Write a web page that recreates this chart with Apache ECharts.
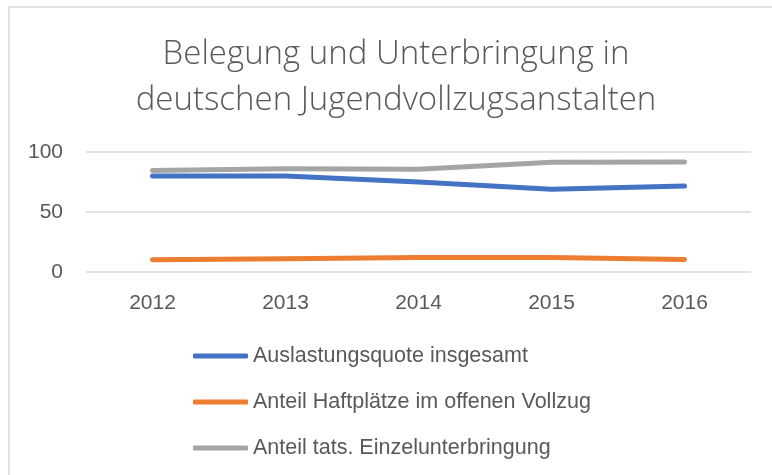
<!DOCTYPE html>
<html>
<head>
<meta charset="utf-8">
<script src="https://cdn.jsdelivr.net/npm/echarts@6/dist/echarts.min.js"></script>
<style>html,body{margin:0;padding:0;background:#fff}#c{width:772px;height:475px}</style>
</head>
<body>
<div id="c"></div>
<script>
const titleText = 'Belegung und Unterbringung in\ndeutschen Jugendvollzugsanstalten';
const categories = ['2012', '2013', '2014', '2015', '2016'];
const seriesNames = ['Auslastungsquote insgesamt', 'Anteil Haftplätze im offenen Vollzug', 'Anteil tats. Einzelunterbringung'];
const auslastung = [80, 80, 75, 69, 71.7];
const offenerVollzug = [10.3, 11, 12, 12, 10.5];
const einzelunterbringung = [84.5, 86, 85.6, 91.4, 91.7];
const yTicks = [0, 50, 100];
const colors = ['#4472c4', '#ed7d31', '#a5a5a5'];

const chart = echarts.init(document.getElementById('c'), null, {renderer: 'canvas'});
const font = '"Liberation Sans", Arial, sans-serif';
const mk = (name, data, color) => ({
  name, type: 'line', data, symbol: 'none', smooth: false,
  lineStyle: {color, width: 5, cap: 'round', join: 'round'},
  itemStyle: {color}
});
chart.setOption({
  animation: false,
  color: colors,
  graphic: [
    {type: 'rect', shape: {x: 9, y: 7, width: 900, height: 600}, style: {fill: 'none', stroke: '#d9d9d9', lineWidth: 1.5}, silent: true},
    {type: 'text', x: 396, y: 32, silent: true,
      style: {text: titleText, textAlign: 'center', textVerticalAlign: 'top', fill: '#595959',
        fontFamily: '"Open Sans", sans-serif', fontWeight: 300, fontSize: 33, lineHeight: 46}}
  ],
  grid: {left: 86, right: 21, top: 152, bottom: 203, containLabel: false},
  xAxis: {
    type: 'category', data: categories, boundaryGap: true,
    axisLine: {show: false}, axisTick: {show: false},
    axisLabel: {fontFamily: font, fontSize: 21, color: '#595959', margin: 21}
  },
  yAxis: {
    type: 'value', min: 0, max: 100, interval: 50,
    axisLine: {show: false}, axisTick: {show: false},
    axisLabel: {fontFamily: font, fontSize: 21, color: '#595959', margin: 23,
      formatter: v => yTicks.includes(v) ? String(v) : ''},
    splitLine: {lineStyle: {color: '#d9d9d9', width: 1.5}}
  },
  legend: {
    type: 'plain', orient: 'vertical', left: 188, top: 340, height: 130,
    icon: 'roundRect', itemWidth: 55, itemHeight: 5, itemGap: 24, padding: 5,
    textStyle: {fontFamily: font, fontSize: 21.5, color: '#595959', lineHeight: 22},
    data: seriesNames
  },
  series: [
    mk(seriesNames[0], auslastung, colors[0]),
    mk(seriesNames[1], offenerVollzug, colors[1]),
    mk(seriesNames[2], einzelunterbringung, colors[2])
  ]
});
</script>
</body>
</html>
